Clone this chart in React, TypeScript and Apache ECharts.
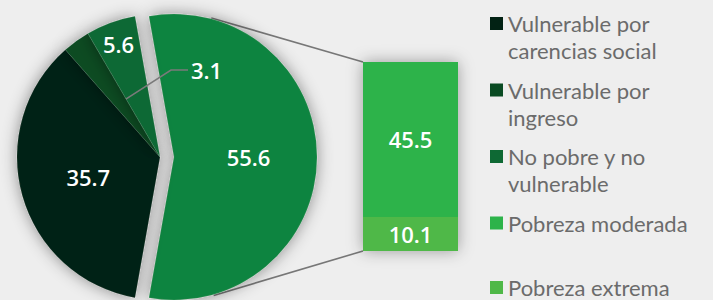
import React, { useEffect, useRef } from "react";
import * as echarts from "echarts";

// ---- data ----
const pieNames = [
  "Pobreza",
  "Vulnerable por carencias social",
  "Vulnerable por ingreso",
  "No pobre y no vulnerable",
];
const pieValues = [55.6, 35.7, 3.1, 5.6];
const pieColors = ["#11843f", "#022214", "#0a4b23", "#0e6934"];

const barCategories = ["Pobreza"];
const barSeriesNames = ["Pobreza extrema", "Pobreza moderada"];
const barSeriesValues = [[10.1], [45.5]];
const barColors = ["#4fb848", "#2db34a"];

const legendNamesTop = [
  "Vulnerable por carencias social",
  "Vulnerable por ingreso",
  "No pobre y no vulnerable",
  "Pobreza moderada",
];
const legendNamesBottom = ["Pobreza extrema"];
const legendLines: Record<string, string[]> = {
  "Vulnerable por carencias social": ["Vulnerable por", "carencias social"],
  "Vulnerable por ingreso": ["Vulnerable por", "ingreso"],
  "No pobre y no vulnerable": ["No pobre y no", "vulnerable"],
  "Pobreza moderada": ["Pobreza moderada", ""],
  "Pobreza extrema": ["Pobreza extrema", ""],
};

// ---- layout ----
const CX = 160;
const CY = 157;
const R = 143;
const EXPLODE = 14;
const GRID = { left: 363, top: 62, width: 95, height: 189 };
const FONT = "Lato, 'Open Sans', sans-serif";
const NUM_FONT = "'Open Sans', 'Noto Sans', sans-serif";

const total = pieValues.reduce((a, b) => a + b, 0);
const halfBig = (pieValues[0] / total) * 180; // degrees
const cumBefore = (i: number) => pieValues.slice(0, i).reduce((a, b) => a + b, 0);
// clockwise-from-top degrees
const angleAt = (pct: number) => 90 - halfBig + (pct / total) * 360;
const pt = (cx: number, cy: number, r: number, deg: number) => {
  const a = (deg * Math.PI) / 180;
  return [cx + r * Math.sin(a), cy - r * Math.cos(a)];
};

export default function App() {
  const ref = useRef<HTMLDivElement>(null);
  useEffect(() => {
    if (!ref.current) return;
    const chart = echarts.init(ref.current, undefined, { renderer: "svg" });

    const labelStyle = {
      color: "#ffffff",
      fontSize: 22,
      fontFamily: NUM_FONT,
      fontWeight: 600,
      formatter: "{c}",
    };

    const pieData = pieValues.map((v, i) => ({
      name: pieNames[i],
      value: v,
      selected: i === 0,
      itemStyle: { color: pieColors[i] },
    }));

    // leader line for the small "3.1" slice
    const smallIdx = 2;
    const edge = angleAt(cumBefore(smallIdx) + pieValues[smallIdx]) - 0.3;
    const leadStart = pt(CX, CY, R * 0.47, edge);
    const leadElbow = [CX + 11, CY - 87];
    const leadEnd = [CX + 28, CY - 87];

    const bigCenter = [CX + EXPLODE, CY];
    const topStart = pt(bigCenter[0], bigCenter[1], R + 1, 15);
    const botStart = pt(bigCenter[0], bigCenter[1], R + 1, 164);

    const legendBase = {
      orient: "vertical",
      left: 490,
      padding: 0,
      itemWidth: 13,
      itemHeight: 13,
      itemGap: -14.5,
      icon: "rect",
      selectedMode: false,
      itemStyle: { shadowBlur: 0, borderWidth: 0 },
      formatter: (n: string) => ["", ...legendLines[n]].join("\n"),
      textStyle: {
        color: "#6b6b6b",
        fontSize: 22,
        lineHeight: 27,
        fontFamily: FONT,
      },
    };

    chart.setOption({
      animation: false,
      backgroundColor: "#eeeeee",
      legend: [
        { ...legendBase, top: -17, height: 400, data: legendNamesTop },
        { ...legendBase, top: 247, height: 200, data: legendNamesBottom },
      ],
      graphic: [
        {
          type: "line",
          z: 0,
          shape: { x1: topStart[0], y1: topStart[1], x2: GRID.left, y2: GRID.top },
          style: { stroke: "#777777", lineWidth: 1.6 },
        },
        {
          type: "line",
          z: 0,
          shape: {
            x1: botStart[0],
            y1: botStart[1],
            x2: GRID.left,
            y2: GRID.top + GRID.height,
          },
          style: { stroke: "#777777", lineWidth: 1.6 },
        },
        {
          type: "polyline",
          z: 100,
          shape: { points: [leadStart, leadElbow, leadEnd] },
          style: { stroke: "#7a7a7a", lineWidth: 1.6, fill: "none" },
        },
      ],
      grid: { left: GRID.left, top: GRID.top, width: GRID.width, height: GRID.height },
      xAxis: { type: "category", data: barCategories, show: false },
      yAxis: {
        type: "value",
        min: 0,
        max: barSeriesValues.reduce((s, v) => s + v[0], 0),
        show: false,
      },
      series: [
        {
          type: "pie",
          center: [CX, CY],
          radius: R,
          startAngle: halfBig,
          clockwise: true,
          selectedMode: "single",
          selectedOffset: EXPLODE,
          avoidLabelOverlap: false,
          emphasis: { disabled: true },
          select: { itemStyle: { color: pieColors[0] } },
          itemStyle: {
            borderColor: "rgba(255,255,255,0.12)",
            borderWidth: 0.6,
            shadowBlur: 16,
            shadowColor: "rgba(0,0,0,0.42)",
          },
          label: { show: true, position: "inside", ...labelStyle },
          labelLine: { show: false },
          labelLayout: (params: any) => {
            const i = params.dataIndex;
            if (i === 3) {
              const mid = angleAt(cumBefore(i) + pieValues[i] / 2);
              const p = pt(CX, CY, R * 0.84, mid);
              return { x: p[0], y: p[1], align: "center", verticalAlign: "middle" };
            }
            if (i === smallIdx) {
              return {
                x: leadEnd[0] + 3,
                y: leadEnd[1],
                align: "left",
                verticalAlign: "middle",
              };
            }
            return {};
          },
          data: pieData,
        },
        ...barSeriesNames.map((name, i) => ({
          type: "bar",
          name,
          stack: "pobreza",
          barWidth: "100%",
          data: barSeriesValues[i],
          itemStyle: { color: barColors[i] },
          showBackground: i === 0,
          backgroundStyle: {
            color: barColors[1],
            shadowBlur: 16,
            shadowColor: "rgba(0,0,0,0.35)",
          },
          label: { show: true, position: "inside", ...labelStyle },
          emphasis: { disabled: true },
        })),
      ],
    });

    return () => chart.dispose();
  }, []);

  return (
    <div
      ref={ref}
      style={{ position: "absolute", left: 0, top: 0, width: 713, height: 300 }}
    />
  );
}
